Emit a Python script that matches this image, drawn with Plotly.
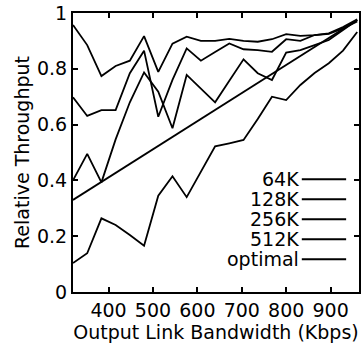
import plotly.graph_objects as go

bandwidth = [320, 352, 384, 416, 448, 480, 512, 544, 576, 608, 640,
             672, 704, 736, 768, 800, 832, 864, 896, 928, 960]

series_names = ["64K", "128K", "256K", "512K"]
tp_64k = [0.957, 0.885, 0.774, 0.81, 0.829, 0.917, 0.789, 0.89, 0.915, 0.90, 0.90,
          0.907, 0.90, 0.897, 0.906, 0.924, 0.918, 0.921, 0.927, 0.95, 0.977]
tp_128k = [0.698, 0.631, 0.652, 0.652, 0.784, 0.865, 0.628, 0.76, 0.873, 0.829, 0.86,
           0.891, 0.87, 0.867, 0.861, 0.906, 0.90, 0.921, 0.925, 0.945, 0.97]
tp_256k = [0.40, 0.495, 0.393, 0.547, 0.68, 0.787, 0.718, 0.587, 0.778, 0.73, 0.68,
           0.757, 0.834, 0.784, 0.76, 0.858, 0.867, 0.885, 0.903, 0.939, 0.975]
tp_512k = [0.104, 0.139, 0.264, 0.24, 0.204, 0.166, 0.345, 0.415, 0.34, 0.43, 0.522,
           0.533, 0.545, 0.62, 0.70, 0.688, 0.742, 0.785, 0.82, 0.865, 0.932]
optimal_x = [320, 960]
optimal_y = [0.33, 0.975]

x_ticks = [400, 500, 600, 700, 800, 900]
y_ticks = [0, 0.2, 0.4, 0.6, 0.8, 1]
y_tick_labels = ["0", "0.2", "0.4", "0.6", "0.8", "1"]

FONT = "DejaVu Sans"
FS = 19
line_style = dict(color="black", width=1.8)

fig = go.Figure()
for name, ys in zip(series_names, [tp_64k, tp_128k, tp_256k, tp_512k]):
    fig.add_trace(go.Scatter(x=bandwidth, y=ys, mode="lines", name=name,
                             line=line_style, showlegend=False, cliponaxis=False))
fig.add_trace(go.Scatter(x=optimal_x, y=optimal_y, mode="lines", name="optimal",
                         line=line_style, showlegend=False))

legend_labels = series_names + ["optimal"]
legend_top = 0.404
legend_step = 0.0717
for k, lab in enumerate(legend_labels):
    yy = legend_top - k * legend_step
    fig.add_annotation(x=0.797, y=yy, xref="paper", yref="paper", text=lab,
                       showarrow=False, xanchor="right", yanchor="middle",
                       font=dict(family=FONT, size=FS, color="black"))
    fig.add_shape(type="line", xref="paper", yref="paper", x0=0.8, x1=0.955,
                  y0=yy, y1=yy, line=dict(color="black", width=2))

axis_common = dict(showline=True, linecolor="black", linewidth=2, mirror="ticks",
                   ticks="inside", ticklen=5, tickwidth=1.5, tickcolor="black",
                   showgrid=False, zeroline=False,
                   tickfont=dict(family=FONT, size=FS, color="black"))

fig.update_layout(
    width=363, height=347,
    margin=dict(l=73, r=2, t=13, b=55),
    paper_bgcolor="white", plot_bgcolor="white",
    xaxis=dict(range=[320, 964], tickvals=x_ticks, **axis_common,
               title=dict(text="Output Link Bandwidth (Kbps)", standoff=0,
                          font=dict(family=FONT, size=FS, color="black"))),
    yaxis=dict(range=[0, 1], tickvals=y_ticks, ticktext=y_tick_labels, **axis_common,
               title=dict(text="Relative Throughput", standoff=2,
                          font=dict(family=FONT, size=FS, color="black"))),
)

fig.write_html("out.html")
